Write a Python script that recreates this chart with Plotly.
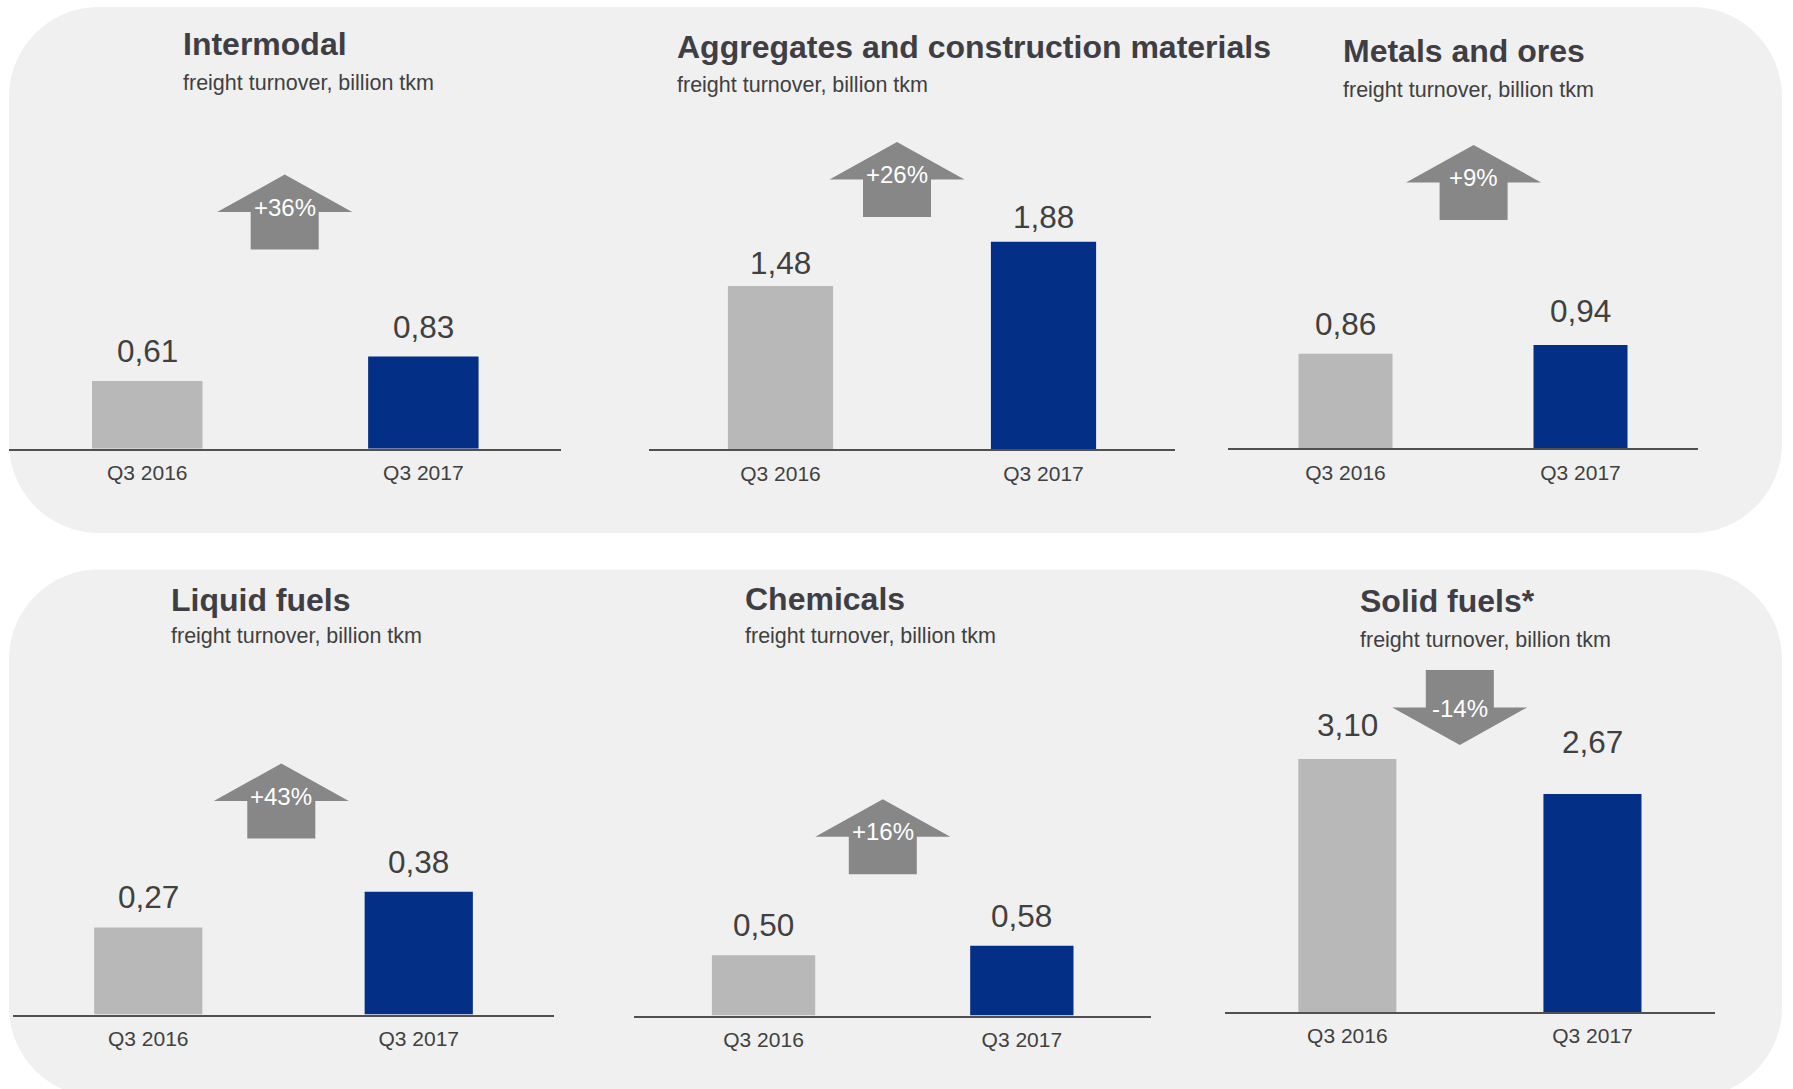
import plotly.graph_objects as go

W, H = 1793, 1089

# ---------------- data ----------------
categories = ["Q3 2016", "Q3 2017"]
titles = ["Intermodal", "Aggregates and construction materials", "Metals and ores",
          "Liquid fuels", "Chemicals", "Solid fuels*"]
subtitle = "freight turnover, billion tkm"
q3_2016 = [0.61, 1.48, 0.86, 0.27, 0.50, 3.10]
q3_2017 = [0.83, 1.88, 0.94, 0.38, 0.58, 2.67]
changes = ["+36%", "+26%", "+9%", "+43%", "+16%", "-14%"]

# ---------------- layout (pixels) ----------------
# x0/x1: axis extent, base: baseline y, ppu: pixels per unit, title/sub centre y,
# arrow centre x / top y, lab: extra pixel lift of the two value labels
panels = [
    dict(x0=9.2, x1=561.4, base=448.7, ppu=111.0, tx=181, ty=44.4, sy=82.9, ax=284.7, atop=174.6, lab=(0, 0)),
    dict(x0=649.0, x1=1175.0, base=449.4, ppu=110.4, tx=675, ty=46.8, sy=85.0, ax=897.0, atop=141.9, lab=(-7, -5)),
    dict(x0=1228.0, x1=1698.0, base=448.3, ppu=109.8, tx=1341, ty=51.3, sy=90.2, ax=1473.6, atop=145.0, lab=(0, 4)),
    dict(x0=13.0, x1=554.0, base=1014.6, ppu=323.0, tx=169, ty=600.3, sy=636.4, ax=281.3, atop=763.5, lab=(0, 0)),
    dict(x0=634.4, x1=1151.0, base=1015.6, ppu=120.6, tx=742.7, ty=599.3, sy=636.4, ax=882.8, atop=799.3, lab=(0, 0)),
    dict(x0=1224.8, x1=1715.0, base=1012.2, ppu=81.7, tx=1357.6, ty=601.3, sy=639.7, ax=1459.8, atop=669.9, lab=(4, 22)),
]

GRAY = "#B8B8B8"
BLUE = "#032F87"
TXT = "#404040"
TITLE = "#3E3E44"
ARROW = "#878787"
PANEL = "#F0F0F0"
FONT = "Liberation Sans, Arial, sans-serif"


def px(x):
    return x / W


def py(y):
    return 1 - y / H


def rrect(x0, y0, x1, y1, r):
    k = 0.5523 * r
    pts = [
        f"M {px(x0 + r)},{py(y0)}",
        f"L {px(x1 - r)},{py(y0)}",
        f"C {px(x1 - r + k)},{py(y0)} {px(x1)},{py(y0 + r - k)} {px(x1)},{py(y0 + r)}",
        f"L {px(x1)},{py(y1 - r)}",
        f"C {px(x1)},{py(y1 - r + k)} {px(x1 - r + k)},{py(y1)} {px(x1 - r)},{py(y1)}",
        f"L {px(x0 + r)},{py(y1)}",
        f"C {px(x0 + r - k)},{py(y1)} {px(x0)},{py(y1 - r + k)} {px(x0)},{py(y1 - r)}",
        f"L {px(x0)},{py(y0 + r)}",
        f"C {px(x0)},{py(y0 + r - k)} {px(x0 + r - k)},{py(y0)} {px(x0 + r)},{py(y0)}",
        "Z",
    ]
    return " ".join(pts)


HW, SW, HH, TH = 67.5, 34.0, 37.5, 75.0


def arrow_path(cx, top, up):
    if up:
        p = [(cx, top), (cx + HW, top + HH), (cx + SW, top + HH), (cx + SW, top + TH),
             (cx - SW, top + TH), (cx - SW, top + HH), (cx - HW, top + HH)]
    else:
        p = [(cx - SW, top), (cx + SW, top), (cx + SW, top + HH), (cx + HW, top + HH),
             (cx, top + TH), (cx - HW, top + HH), (cx - SW, top + HH)]
    s = "M " + " L ".join(f"{px(a)},{py(b)}" for a, b in p) + " Z"
    return s


fig = go.Figure()
shapes = [
    dict(type="path", xref="paper", yref="paper", path=rrect(9, 7, 1782, 533, 90),
         fillcolor=PANEL, line=dict(width=0), layer="below"),
    dict(type="path", xref="paper", yref="paper", path=rrect(9, 569.5, 1782, 1097, 90),
         fillcolor=PANEL, line=dict(width=0), layer="below"),
]
annotations = []
layout_axes = {}

for i, p in enumerate(panels):
    n = i + 1
    xa = "x" if n == 1 else f"x{n}"
    ya = "y" if n == 1 else f"y{n}"
    vals = [q3_2016[i], q3_2017[i]]
    fig.add_trace(go.Bar(
        x=categories, y=vals, width=0.4,
        marker=dict(color=[GRAY, BLUE], line=dict(width=0)),
        xaxis=xa, yaxis=ya, showlegend=False, hoverinfo="x+y",
    ))
    top_px = p["base"] - (360 if i < 3 else 400)
    yr = (p["base"] - top_px) / p["ppu"]
    layout_axes["xaxis" if n == 1 else f"xaxis{n}"] = dict(
        domain=[px(p["x0"]), px(p["x1"])], anchor=ya, type="category",
        range=[-0.5, 1.5], showline=True, linecolor="#505050", linewidth=2,
        showgrid=False, zeroline=False, ticks="outside", ticklen=4,
        tickcolor="rgba(0,0,0,0)", tickfont=dict(size=21, color=TXT, family=FONT),
        fixedrange=True,
    )
    layout_axes["yaxis" if n == 1 else f"yaxis{n}"] = dict(
        domain=[py(p["base"]), py(top_px)], anchor=xa, range=[0, yr],
        visible=False, fixedrange=True,
    )
    # value labels
    for c, v, lift in zip(categories, vals, p["lab"]):
        annotations.append(dict(
            x=c, y=v, xref=xa, yref=ya, xanchor="center", yanchor="bottom", yshift=10 + lift,
            text=f"{v:.2f}".replace(".", ","), showarrow=False,
            font=dict(size=31.5, color=TXT, family=FONT),
        ))
    # titles
    annotations.append(dict(
        x=px(p["tx"]), y=py(p["ty"]), xref="paper", yref="paper", xanchor="left",
        yanchor="middle", text=f"<b>{titles[i]}</b>", showarrow=False,
        font=dict(size=32, color=TITLE, family=FONT),
    ))
    annotations.append(dict(
        x=px(p["tx"]), y=py(p["sy"]), xref="paper", yref="paper", xanchor="left",
        yanchor="middle", text=subtitle, showarrow=False,
        font=dict(size=21.5, color=TXT, family=FONT),
    ))
    # change arrow
    up = not changes[i].startswith("-")
    shapes.append(dict(type="path", xref="paper", yref="paper",
                       path=arrow_path(p["ax"], p["atop"], up),
                       fillcolor=ARROW, line=dict(width=0), layer="above"))
    ty = p["atop"] + HH - 5 if up else p["atop"] + HH + 1
    annotations.append(dict(
        x=px(p["ax"]), y=py(ty), xref="paper", yref="paper", xanchor="center",
        yanchor="middle", text=changes[i], showarrow=False,
        font=dict(size=24, color="white", family=FONT),
    ))

fig.update_layout(
    width=W, height=H, autosize=False,
    margin=dict(l=0, r=0, t=0, b=0),
    paper_bgcolor="white", plot_bgcolor="rgba(0,0,0,0)",
    font=dict(family=FONT, color=TXT),
    shapes=shapes, annotations=annotations, bargap=0.6,
    **layout_axes,
)

fig.write_html("out.html", config={"displayModeBar": False},
               post_script="document.body.style.margin='0';")
